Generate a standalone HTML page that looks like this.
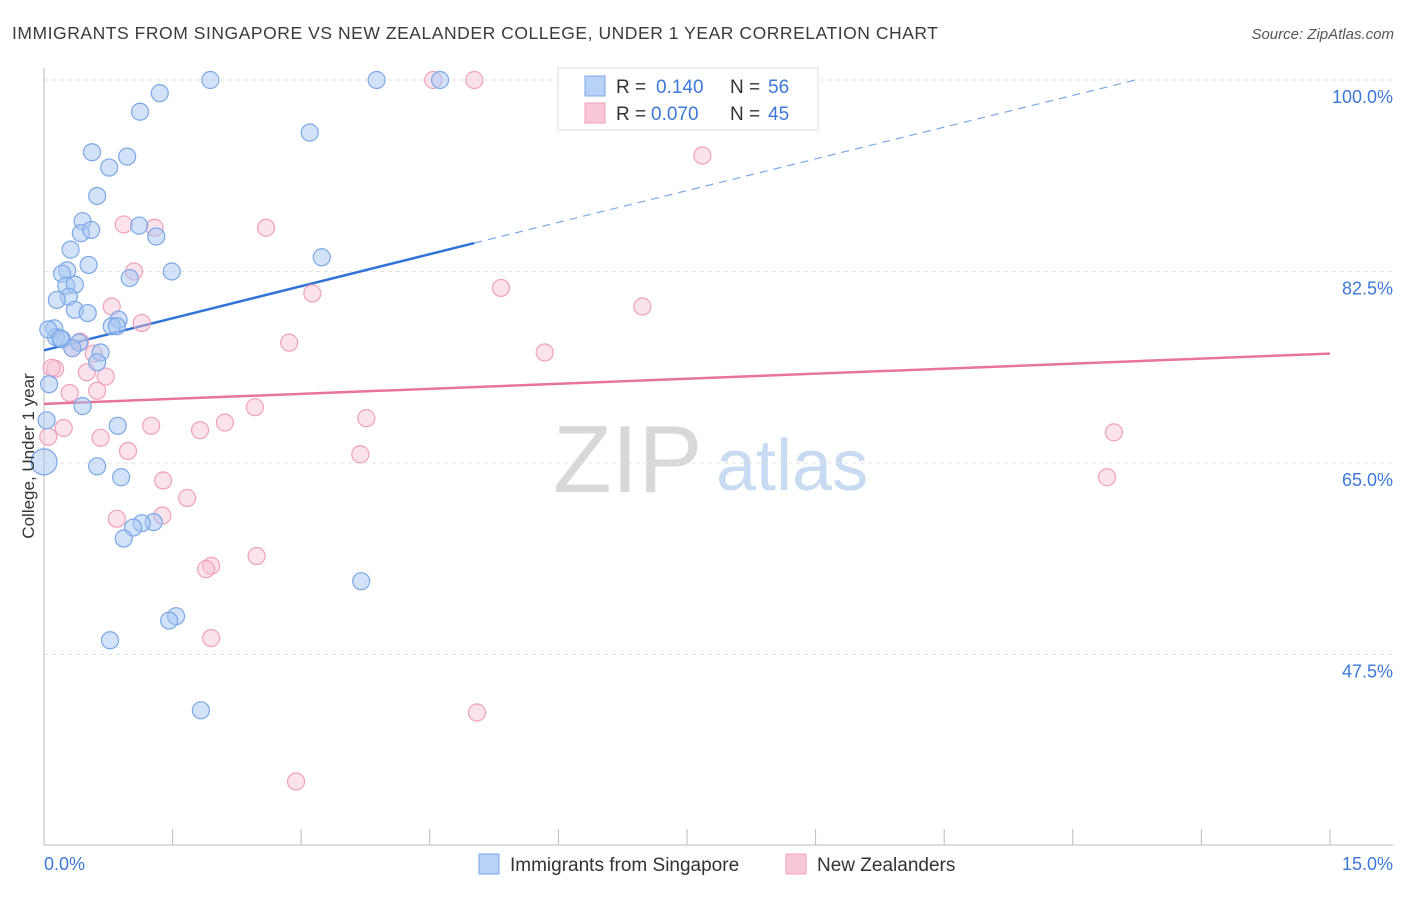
<!DOCTYPE html>
<html><head><meta charset="utf-8"><style>
body{margin:0;background:#fff;font-family:"Liberation Sans",sans-serif}
svg text{font-family:"Liberation Sans",sans-serif}
</style></head><body>
<svg id="chart" width="1406" height="892" viewBox="0 0 1406 892" xmlns="http://www.w3.org/2000/svg">
<text x="12" y="39" font-size="17.5" fill="#3a3a3a" textLength="926" lengthAdjust="spacing">IMMIGRANTS FROM SINGAPORE VS NEW ZEALANDER COLLEGE, UNDER 1 YEAR CORRELATION CHART</text>
<text x="1394" y="39" font-size="15" fill="#555" text-anchor="end" font-style="italic">Source: ZipAtlas.com</text>
<g>
<text x="553" y="492" font-size="96" fill="#d8d8d8" font-family="Liberation Serif,serif">ZIP</text>
<text x="716" y="490" font-size="72" fill="#c8dbf3">atlas</text>
</g>
<g id="grid"></g>
<g id="axes"></g>
<g id="trends"></g>
<g id="pts"></g>
<text transform="translate(34,456) rotate(-90)" font-size="17" fill="#333" text-anchor="middle">College, Under 1 year</text>
<g>
<rect x="558" y="68" width="260" height="62" fill="#fff" stroke="#ddd"/>
<rect x="585" y="76" width="20" height="20" fill="#b8d2f5" stroke="#7aa8e8"/>
<rect x="585" y="103" width="20" height="20" fill="#f9c8d6" stroke="#f0a0bb"/>
<text x="616" y="93" font-size="19" fill="#333">R =</text>
<text x="656" y="93" font-size="19" fill="#3d78d8">0.140</text>
<text x="730" y="93" font-size="19" fill="#333">N =</text>
<text x="768" y="93" font-size="19" fill="#3d78d8">56</text>
<text x="616" y="120" font-size="19" fill="#333">R =</text>
<text x="651" y="120" font-size="19" fill="#3d78d8">0.070</text>
<text x="730" y="120" font-size="19" fill="#333">N =</text>
<text x="768" y="120" font-size="19" fill="#3d78d8">45</text>
</g>
<g>
<rect x="479" y="854" width="20" height="20" fill="#b8d2f5" stroke="#7aa8e8"/>
<text x="510" y="871" font-size="19" fill="#333">Immigrants from Singapore</text>
<rect x="786" y="854" width="20" height="20" fill="#f9c8d6" stroke="#f0a0bb"/>
<text x="817" y="871" font-size="19" fill="#333">New Zealanders</text>
</g>
</svg>
<script>
const yTicks=[100,82.5,65,47.5];
const yTickLabels=["100.0%","82.5%","65.0%","47.5%"];
const xTicks=[0,1.5,3,4.5,6,7.5,9,10.5,12,13.5,15];
const xTickLabels=["0.0%","15.0%"];
const blueX=[1.94,3.88,4.62,1.35,1.12,3.10,0.56,0.97,0.76,0.62,0.45,1.11,0.43,0.55,1.31,0.31,0.52,0.27,0.21,1.49,1.00,3.24,0.26,0.36,0.29,0.15,0.36,0.51,0.87,0.12,0.79,0.85,0.14,0.21,0.41,0.33,0.66,0.62,0.06,0.45,0.86,0.03,0.0,0.62,0.90,1.28,1.14,1.04,0.93,3.70,1.54,1.46,0.77,1.83,0.05,0.19];
const blueY=[100,100,100,98.8,97.1,95.2,93.4,93.0,92.0,89.4,87.1,86.7,86.0,86.3,85.7,84.5,83.1,82.6,82.3,82.5,81.9,83.8,81.2,81.3,80.2,79.9,79.0,78.7,78.1,77.3,77.5,77.5,76.5,76.3,76.0,75.5,75.1,74.2,72.2,70.2,68.4,68.9,65.1,64.7,63.7,59.6,59.5,59.1,58.1,54.2,51.0,50.6,48.8,42.4,77.2,76.4];
const pinkX=[4.54,5.02,7.68,0.93,1.29,2.59,1.05,5.33,3.13,0.79,6.98,1.14,2.86,0.42,0.33,5.84,0.58,0.13,0.50,0.72,0.30,0.62,2.46,3.76,2.11,1.25,1.82,0.23,0.66,12.48,3.69,0.98,1.39,12.40,1.67,1.38,0.85,2.48,1.95,1.89,1.95,5.05,2.94,0.05,0.09];
const pinkY=[100,100,93.1,86.8,86.5,86.5,82.5,81.0,80.5,79.3,79.3,77.8,76.0,76.1,75.5,75.1,75.0,73.6,73.3,72.9,71.4,71.6,70.1,69.1,68.7,68.4,68.0,68.2,67.3,67.8,65.8,66.1,63.4,63.7,61.8,60.2,59.9,56.5,55.6,55.3,49.0,42.2,35.9,67.4,73.7];
const blueTrendX=[0,5.02,12.73];
const blueTrendY=[75.3,85.1,100];
const pinkTrendX=[0,15];
const pinkTrendY=[70.4,75.0];
const NS="http://www.w3.org/2000/svg";
const X=v=>44+v*85.73;
const Y=v=>80+(100-v)*10.943;
function mk(tag,attrs,parent){const e=document.createElementNS(NS,tag);for(const k in attrs)e.setAttribute(k,attrs[k]);parent.appendChild(e);return e;}
const grid=document.getElementById('grid'),axes=document.getElementById('axes'),tr=document.getElementById('trends'),pts=document.getElementById('pts');
yTicks.forEach((t,i)=>{
 const l=mk('line',{x1:44,x2:1393,y1:Y(t),y2:Y(t),stroke:'#e2e2e2','stroke-dasharray':'4,4'},grid);
 
 
 const tx=mk('text',{x:1393,y:Y(t)+23,'font-size':18,fill:'#3d78d8','text-anchor':'end'},grid);
 tx.textContent=yTickLabels[i];
 
 
});
const ya=mk('line',{x1:44,x2:44,y1:68,y2:845,stroke:'#bbb'},axes);


const xa=mk('line',{x1:44,x2:1393,y1:845,y2:845,stroke:'#bbb'},axes);


xTicks.forEach(t=>{
 const l=mk('line',{x1:X(t),x2:X(t),y1:829,y2:845,stroke:'#bbb'},axes);
 
 
});
const xl0=mk('text',{x:44,y:870,'font-size':18,fill:'#3d78d8'},axes);xl0.textContent=xTickLabels[0];


const xl1=mk('text',{x:1393,y:870,'font-size':18,fill:'#3d78d8','text-anchor':'end'},axes);xl1.textContent=xTickLabels[1];


function dots(xs,ys,fill,stroke,name){xs.forEach((x,i)=>{
 const r=(x===0&&ys[i]<66)?13:8.5;
 const c=mk('circle',{cx:X(x),cy:Y(ys[i]),r:r,fill:fill,stroke:stroke,'stroke-width':1.2},pts);
 
 
});}
dots(pinkX,pinkY,'rgba(248,190,208,0.45)','#f0a0bb','new-zealanders-point');
dots(blueX,blueY,'rgba(165,198,242,0.5)','#7aa8e8','singapore-point');
const b1=mk('line',{x1:X(blueTrendX[0]),y1:Y(blueTrendY[0]),x2:X(blueTrendX[1]),y2:Y(blueTrendY[1]),stroke:'#2f74d6','stroke-width':2.5},tr);


const b2=mk('line',{x1:X(blueTrendX[1]),y1:Y(blueTrendY[1]),x2:X(blueTrendX[2]),y2:Y(blueTrendY[2]),stroke:'#7aa8e8','stroke-width':1.2,'stroke-dasharray':'8,6'},tr);


const p1=mk('line',{x1:X(pinkTrendX[0]),y1:Y(pinkTrendY[0]),x2:X(pinkTrendX[1]),y2:Y(pinkTrendY[1]),stroke:'#e8739d','stroke-width':2.5},tr);


</script>
</body></html>
